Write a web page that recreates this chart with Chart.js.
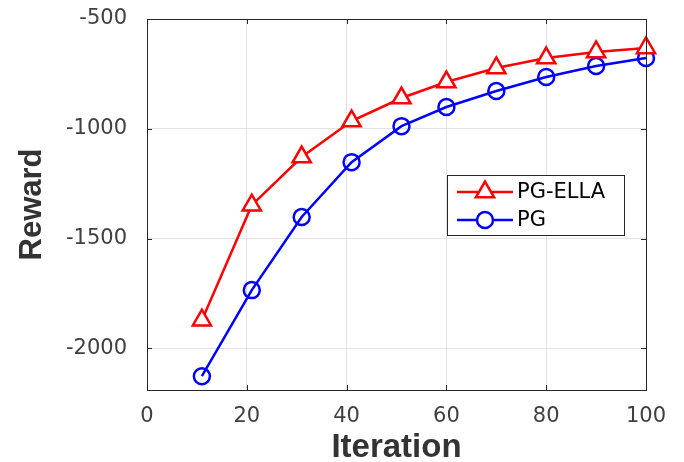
<!DOCTYPE html>
<html>
<head>
<meta charset="utf-8">
<script src="https://cdn.jsdelivr.net/npm/chart.js@4"></script>
<style>
  html, body { margin: 0; padding: 0; background: #fff; }
  #wrap { width: 684px; height: 462px; }
</style>
</head>
<body>
<div id="wrap"><canvas id="rewardChart"></canvas></div>
<script>
// data
const iterations = [11, 21, 31, 41, 51, 60, 70, 80, 90, 100];
const pgEllaReward = [-1872, -1348, -1129, -965, -860, -787, -723, -678, -650, -632];
const pgReward = [-2127, -1735, -1402, -1152, -988, -901, -828, -764, -714, -678];
const xTicks = [0, 20, 40, 60, 80, 100];
const yTicks = [-2000, -1500, -1000, -500];

const seriesNames = ['PG-ELLA', 'PG'];
const seriesColors = ['#ff0000', '#0000ff'];
const seriesMarkers = ['triangle', 'circle'];
const markerSizes = [10.5, 8];

const tickFont = '"DejaVu Sans", sans-serif';
const titleFont = '"Liberation Sans", Arial, sans-serif';

const toPoints = (xs, ys) => xs.map((x, i) => ({ x: x, y: ys[i] }));

// matlab-like box, inward ticks and legend inside the axes
const matlabBox = {
    id: 'matlabBox',
    afterDatasetsDraw(chart) {
        const ctx = chart.ctx;
        const a = chart.chartArea;
        const xs = chart.scales.x, ys = chart.scales.y;
        ctx.save();
        ctx.strokeStyle = '#262626';
        ctx.lineWidth = 1;
        ctx.strokeRect(a.left + 0.5, a.top + 0.5, a.right - a.left, a.bottom - a.top);
        ctx.beginPath();
        xTicks.forEach(v => {
            const px = Math.round(xs.getPixelForValue(v)) + 0.5;
            ctx.moveTo(px, a.bottom); ctx.lineTo(px, a.bottom - 5);
            ctx.moveTo(px, a.top); ctx.lineTo(px, a.top + 5);
        });
        yTicks.forEach(v => {
            const py = Math.round(ys.getPixelForValue(v)) + 0.5;
            ctx.moveTo(a.left, py); ctx.lineTo(a.left + 5, py);
            ctx.moveTo(a.right, py); ctx.lineTo(a.right - 5, py);
        });
        ctx.stroke();

        // legend
        const lx = a.left + 300, ly = a.top + 156, lw = 177, lh = 60;
        ctx.fillStyle = '#fff';
        ctx.fillRect(lx, ly, lw, lh);
        ctx.strokeStyle = '#262626';
        ctx.strokeRect(lx + 0.5, ly + 0.5, lw, lh);
        seriesNames.forEach((name, i) => {
            const cy = ly + 17 + i * 28;
            ctx.strokeStyle = seriesColors[i];
            ctx.lineWidth = 2.5;
            ctx.beginPath();
            ctx.moveTo(lx + 10, cy); ctx.lineTo(lx + 66, cy);
            ctx.stroke();
            ctx.fillStyle = '#fff';
            Chart.helpers.drawPoint(ctx, {
                pointStyle: seriesMarkers[i], radius: markerSizes[i], borderWidth: 2.5, rotation: 0
            }, lx + 38, cy);
            ctx.fillStyle = '#000';
            ctx.font = '21px ' + tickFont;
            ctx.textBaseline = 'middle';
            ctx.fillText(name, lx + 70, cy + 1);
        });
        ctx.restore();
    }
};

new Chart(document.getElementById('rewardChart'), {
    type: 'line',
    data: {
        datasets: [
            {
                label: seriesNames[0],
                data: toPoints(iterations, pgEllaReward),
                borderColor: seriesColors[0],
                backgroundColor: '#fff',
                borderWidth: 2.5,
                pointStyle: seriesMarkers[0],
                pointRadius: markerSizes[0],
                pointBorderWidth: 2.5,
                tension: 0
            },
            {
                label: seriesNames[1],
                data: toPoints(iterations, pgReward),
                borderColor: seriesColors[1],
                backgroundColor: 'rgba(0,0,0,0)',
                borderWidth: 2.5,
                pointStyle: seriesMarkers[1],
                pointRadius: markerSizes[1],
                pointBorderWidth: 2.5,
                tension: 0
            }
        ]
    },
    options: {
        responsive: true,
        maintainAspectRatio: false,
        animation: false,
        clip: false,
        layout: { padding: { top: 19, right: 38, left: 0, bottom: 0 } },
        scales: {
            x: {
                type: 'linear',
                min: 0,
                max: 100,
                afterBuildTicks: s => { s.ticks = xTicks.map(v => ({ value: v })); },
                afterFit: s => { s.height = 72; },
                grid: { color: '#e3e3e3', drawTicks: false },
                border: { display: false },
                ticks: {
                    color: '#404040',
                    padding: 14,
                    callback: v => String(v),
                    font: { family: tickFont, size: 21 }
                },
                title: {
                    display: true,
                    text: 'Iteration',
                    color: '#333',
                    padding: 0,
                    font: { family: titleFont, size: 33, weight: 'bold', lineHeight: 0.85 }
                }
            },
            y: {
                type: 'linear',
                min: -2190,
                max: -500,
                afterBuildTicks: s => { s.ticks = yTicks.map(v => ({ value: v })); },
                afterFit: s => { s.width = 147; s.paddingTop = 12; s.paddingBottom = 12; },
                grid: { color: '#e3e3e3', drawTicks: false },
                border: { display: false },
                ticks: {
                    color: '#404040',
                    padding: 20,
                    callback: v => String(v),
                    font: { family: tickFont, size: 21 }
                },
                title: {
                    display: true,
                    text: 'Reward',
                    color: '#333',
                    padding: { top: 14, bottom: 0 },
                    font: { family: titleFont, size: 31, weight: 'bold' }
                }
            }
        },
        plugins: {
            legend: { display: false },
            tooltip: { enabled: false }
        }
    },
    plugins: [matlabBox]
});
</script>
</body>
</html>
